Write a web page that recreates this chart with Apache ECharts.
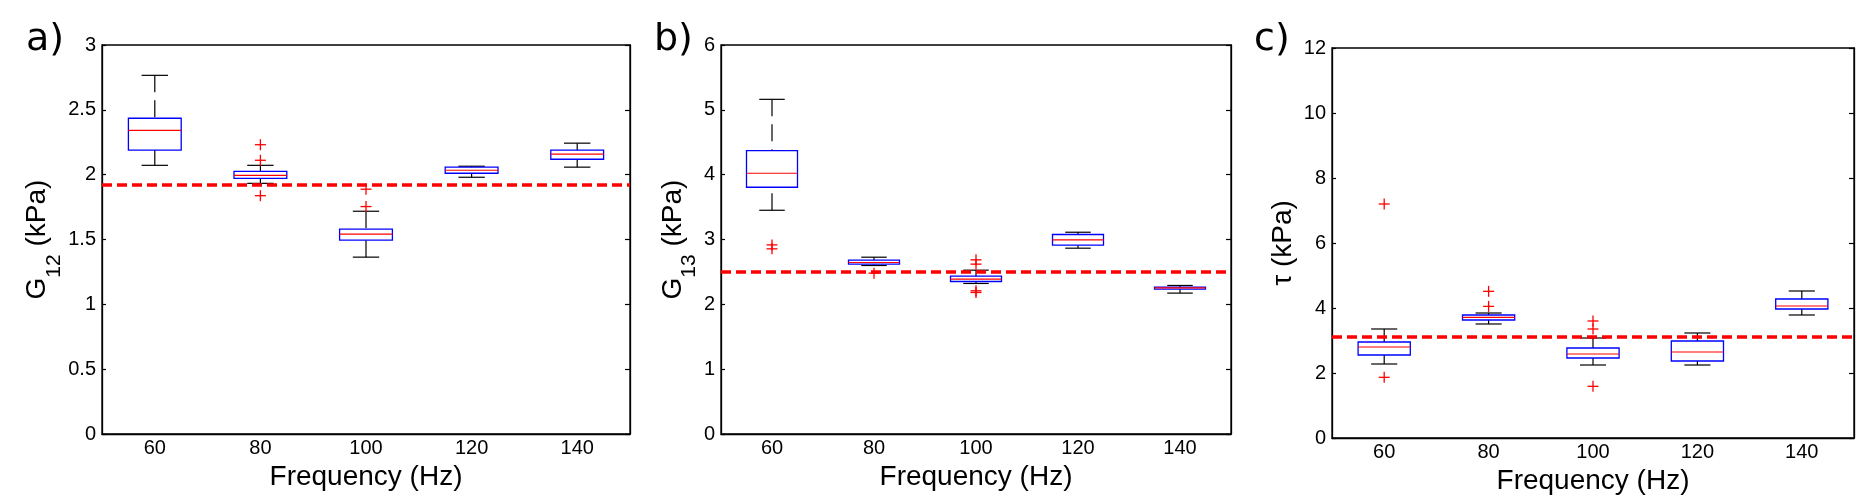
<!DOCTYPE html>
<html><head><meta charset="utf-8">
<script src="https://cdn.jsdelivr.net/npm/echarts@6/dist/echarts.min.js"></script>
<style>html,body{margin:0;padding:0;background:#fff}#c{width:1867px;height:501px}</style>
</head><body><div id="c"></div>
<script>
// ---- data ----
const categories = ['60', '80', '100', '120', '140'];
// each row: [lowWhisker, q1, median, q3, highWhisker]
const g12Boxes = [
  [2.072, 2.190, 2.342, 2.435, 2.766],
  [1.933, 1.972, 1.995, 2.026, 2.072],
  [1.364, 1.495, 1.541, 1.580, 1.718],
  [1.980, 2.011, 2.034, 2.058, 2.065],
  [2.058, 2.119, 2.158, 2.189, 2.243]
];
// outliers: [categoryIndex, value]
const g12Outliers = [[1, 2.231], [1, 2.111], [1, 1.838], [2, 1.888], [2, 1.754]];
const g12Ref = 1.918;

const g13Boxes = [
  [3.451, 3.806, 4.022, 4.371, 5.162],
  [2.599, 2.619, 2.645, 2.681, 2.727],
  [2.322, 2.352, 2.388, 2.435, 2.527],
  [2.866, 2.912, 2.994, 3.077, 3.112],
  [2.173, 2.234, 2.255, 2.265, 2.291]
];
const g13Outliers = [[0, 2.917], [0, 2.856], [1, 2.481], [2, 2.686], [2, 2.620], [2, 2.209], [2, 2.183]];
const g13Ref = 2.496;

const tauBoxes = [
  [2.277, 2.554, 2.800, 2.954, 3.354],
  [3.508, 3.631, 3.713, 3.785, 3.846],
  [2.246, 2.462, 2.585, 2.769, 3.077],
  [2.246, 2.369, 2.646, 2.985, 3.231],
  [3.785, 3.969, 4.062, 4.277, 4.523]
];
const tauOutliers = [[0, 7.2], [0, 1.867], [1, 4.513], [1, 4.05], [2, 3.6], [2, 3.354], [2, 1.59]];
const tauRef = 3.108;

const yRanges = [[0, 3, 0.5], [0, 6, 1], [0, 12, 2]];
const yNames = ['{m|G}{s|12}{m| (kPa)}', '{m|G}{s|13}{m| (kPa)}', '{m|τ (kPa)}'];
const xName = 'Frequency (Hz)';
const panelLetters = ['a)', 'b)', 'c)'];

// ---- layout ----
const FONT = 'Liberation Sans';
const grids = [
  {left: 102, top: 45, width: 528, height: 389},
  {left: 721, top: 45, width: 510, height: 389},
  {left: 1332, top: 48, width: 522, height: 390}
];
const nameGaps = [45, 31, 35];
const letterPos = [[26, 40], [654, 40], [1254, 40]];

function renderBox(params, api) {
  const i = api.value(0);
  const lo = api.coord([i, api.value(1)]);
  const q1 = api.coord([i, api.value(2)]);
  const md = api.coord([i, api.value(3)]);
  const q3 = api.coord([i, api.value(4)]);
  const hi = api.coord([i, api.value(5)]);
  const band = api.size([1, 0])[0];
  const hw = band * 0.25, cw = band * 0.125;
  const x = md[0];
  const wStyle = {stroke: '#000', lineWidth: 1.2, lineDash: [17, 8]};
  const cStyle = {stroke: '#000', lineWidth: 1.2};
  return {
    type: 'group',
    children: [
      {type: 'line', shape: {x1: x, y1: hi[1], x2: x, y2: q3[1]}, style: wStyle},
      {type: 'line', shape: {x1: x, y1: lo[1], x2: x, y2: q1[1]}, style: wStyle},
      {type: 'line', shape: {x1: x - cw, y1: hi[1], x2: x + cw, y2: hi[1]}, style: cStyle},
      {type: 'line', shape: {x1: x - cw, y1: lo[1], x2: x + cw, y2: lo[1]}, style: cStyle},
      {type: 'rect', shape: {x: x - hw, y: q3[1], width: 2 * hw, height: q1[1] - q3[1]},
        style: {stroke: '#0000ff', fill: null, lineWidth: 1.3}},
      {type: 'line', shape: {x1: x - hw, y1: md[1], x2: x + hw, y2: md[1]},
        style: {stroke: '#ff0000', lineWidth: 1.2}}
    ]
  };
}

function renderPlus(params, api) {
  const p = api.coord([api.value(0), api.value(1)]);
  const s = 5.5;
  const st = {stroke: '#ff0000', lineWidth: 1.3};
  return {
    type: 'group',
    children: [
      {type: 'line', shape: {x1: p[0] - s, y1: p[1], x2: p[0] + s, y2: p[1]}, style: st},
      {type: 'line', shape: {x1: p[0], y1: p[1] - s, x2: p[0], y2: p[1] + s}, style: st}
    ]
  };
}

const boxSets = [g12Boxes, g13Boxes, tauBoxes];
const outSets = [g12Outliers, g13Outliers, tauOutliers];
const refs = [g12Ref, g13Ref, tauRef];

const option = {
  backgroundColor: '#fff',
  animation: false,
  grid: grids.map(g => Object.assign({show: true, borderColor: '#000', borderWidth: 1.3, backgroundColor: 'transparent'}, g)),
  xAxis: grids.map((g, k) => ({
    type: 'category', gridIndex: k, data: categories, boundaryGap: true,
    axisLine: {lineStyle: {color: '#000', width: 1.3}},
    axisTick: {show: false},
    axisLabel: {color: '#000', fontSize: 20, fontFamily: FONT, margin: 4},
    splitLine: {show: false},
    name: xName, nameLocation: 'middle', nameGap: 24,
    nameTextStyle: {color: '#000', fontSize: 28, fontFamily: FONT}
  })),
  yAxis: [].concat(...grids.map((g, k) => [
    {
      type: 'value', gridIndex: k, position: 'left',
      min: yRanges[k][0], max: yRanges[k][1], interval: yRanges[k][2],
      axisLine: {show: true, lineStyle: {color: '#000', width: 1.3}},
      axisTick: {show: true, inside: true, length: 4, lineStyle: {color: '#000', width: 1.2}},
      axisLabel: {color: '#000', fontSize: 20, fontFamily: FONT, margin: 6},
      splitLine: {show: false},
      name: yNames[k], nameLocation: 'middle', nameGap: nameGaps[k],
      nameTextStyle: {
        color: '#000', fontFamily: FONT,
        rich: {
          m: {fontSize: 28, fontFamily: FONT, color: '#000', lineHeight: 28, verticalAlign: 'top'},
          s: {fontSize: 21, fontFamily: FONT, color: '#000', lineHeight: 21, verticalAlign: 'top', padding: [20, 0, 0, 0]}
        }
      }
    },
    {
      type: 'value', gridIndex: k, position: 'right',
      min: yRanges[k][0], max: yRanges[k][1], interval: yRanges[k][2],
      axisLine: {show: true, lineStyle: {color: '#000', width: 1.3}},
      axisTick: {show: true, inside: true, length: 5, lineStyle: {color: '#000', width: 1.2}},
      axisLabel: {show: false},
      splitLine: {show: false}
    }
  ])),
  graphic: panelLetters.map((t, k) => ({
    type: 'text', x: letterPos[k][0], y: letterPos[k][1],
    style: {text: t, font: '38px "DejaVu Sans"', fill: '#000', verticalAlign: 'middle', align: 'left'}
  })),
  series: [].concat(...grids.map((g, k) => [
    {
      type: 'custom', xAxisIndex: k, yAxisIndex: 2 * k,
      renderItem: renderBox,
      encode: {x: 0, y: [1, 2, 3, 4, 5]},
      data: boxSets[k].map((b, i) => [i].concat(b)),
      z: 2,
      markLine: {
        silent: true, symbol: ['none', 'none'], z: 5,
        label: {show: false},
        lineStyle: {color: '#ff0000', type: [10, 5], width: 3.5},
        data: [{yAxis: refs[k]}]
      }
    },
    {
      type: 'custom', xAxisIndex: k, yAxisIndex: 2 * k,
      renderItem: renderPlus,
      encode: {x: 0, y: 1},
      data: outSets[k],
      z: 3
    }
  ]))
};

const chart = echarts.init(document.getElementById('c'), null, {renderer: 'canvas'});
chart.setOption(option);
</script>
</body></html>
